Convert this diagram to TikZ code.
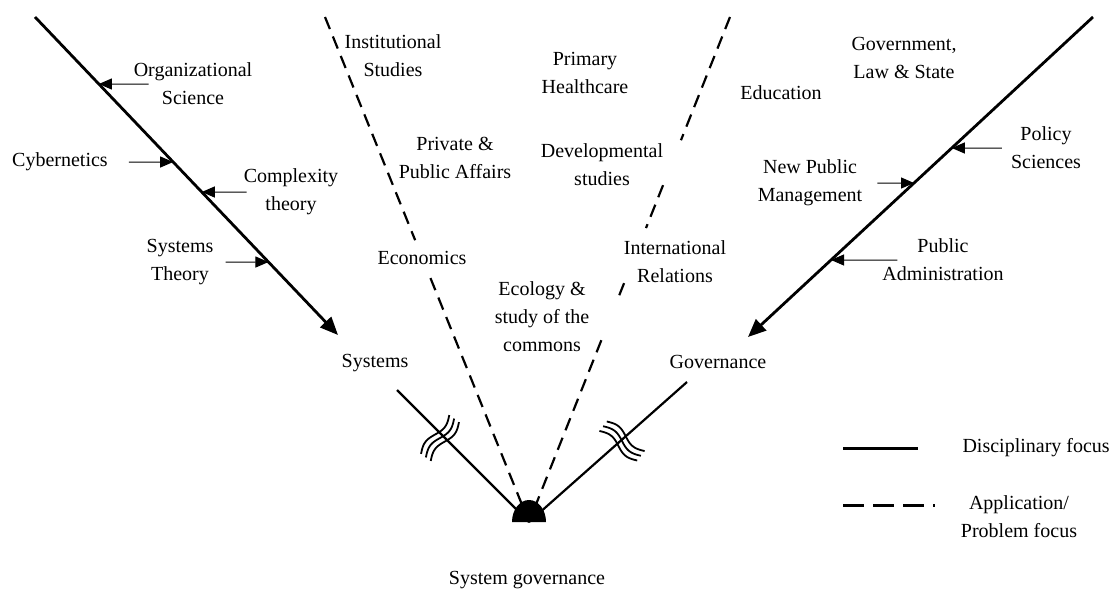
\documentclass[tikz,border=0pt]{standalone}
\usepackage{fontspec}
\setmainfont{Liberation Serif}
\usetikzlibrary{arrows.meta,calc}

\begin{document}
\begin{tikzpicture}[x=1pt, y=-1pt, font=\fontsize{20}{28}\selectfont,
  lbl/.style={align=center, inner sep=2pt},
  disc/.style={line width=2.8pt, -{Triangle[length=18pt,width=15pt]}},
  feed/.style={line width=1pt, -{Triangle[length=13pt,width=11pt]}},
  appl/.style={line width=2.2pt, dash pattern=on 13pt off 8pt},
  brk/.style={line width=1.8pt}]
\useasboundingbox (0,0) rectangle (1110,589);

\coordinate (ltop) at (35,17);
\coordinate (larr) at (338,335);
\coordinate (rtop) at (1093,17);
\coordinate (rarr) at (748,337);
\coordinate (dl) at (325,17);
\coordinate (dr) at (730,17);
\coordinate (sl) at (397,390);
\coordinate (sr) at (687,382);
\coordinate (hub) at (529,522);

\node[lbl] (inst)   at (393,56)  {Institutional\\Studies};
\node[lbl] (prim)   at (585,73)  {Primary\\Healthcare};
\node[lbl] (govt)   at (904,58)  {Government,\\Law \& State};
\node[lbl] (orgsci) at (193,84)  {Organizational\\Science};
\node[lbl] (educ)   at (781,93)  {Education};
\node[lbl] (priv)   at (455,158) {Private \&\\Public Affairs};
\node[lbl] (devel)  at (602,165) {Developmental\\studies};
\node[lbl] (cyber)  at (60,162)  {Cybernetics};
\node[lbl] (cplx)   at (291,192) {Complexity\\theory};
\node[lbl] (policy) at (1046,148) {Policy\\Sciences};
\node[lbl] (npm)    at (810,183) {New Public\\Management};
\node[lbl] (systh)  at (180,262) {Systems\\Theory};
\node[lbl] (econ)   at (422,258) {Economics};
\node[lbl] (intl)   at (675,262) {International\\Relations};
\node[lbl] (pubadm) at (943,260) {Public\\Administration};
\node[lbl] (ecol)   at (542,317) {Ecology \&\\study of the\\commons};
\node[lbl] (sys)    at (375,363) {Systems};
\node[lbl] (gov)    at (718,362) {Governance};
\node[lbl] (sysgov) at (527,580) {System governance};

% disciplinary lines
\draw[disc] (ltop) -- (larr);
\draw[disc] (rtop) -- (rarr);
\draw[line width=2.2pt] (sl) -- (hub);
\draw[line width=2.2pt] (sr) -- (hub);

% feeders
\draw[feed] ([xshift=17pt]orgsci.west) -- (intersection of ltop--larr and orgsci.west--orgsci.east);
\draw[feed] ([xshift=19pt]cyber.east) -- (intersection of ltop--larr and cyber.west--cyber.east);
\draw[feed] ([xshift=5pt]cplx.west) -- (intersection of ltop--larr and cplx.west--cplx.east);
\draw[feed] ([xshift=10pt]systh.east) -- (intersection of ltop--larr and systh.west--systh.east);
\draw[feed] ([xshift=-7pt]policy.west) -- (intersection of rtop--rarr and policy.west--policy.east);
\draw[feed] ([xshift=13pt]npm.east) -- (intersection of rtop--rarr and npm.west--npm.east);
\draw[feed] ([xshift=17pt]pubadm.west) -- (intersection of rtop--rarr and pubadm.west--pubadm.east);

% application lines
\draw[appl] (dl) -- ($(dl)!0.442!(hub)$) ($(dl)!0.517!(hub)$) -- (hub);
\draw[appl] (dr) -- ($(dr)!0.244!(hub)$) ($(dr)!0.333!(hub)$) -- ($(dr)!0.418!(hub)$)
  ($(dr)!0.527!(hub)$) -- ($(dr)!0.560!(hub)$) ($(dr)!0.640!(hub)$) -- (hub);

\fill (hub) ++(-17pt,0) arc[start angle=180, end angle=0, x radius=17pt, y radius=22pt] -- cycle;

% breaks
\foreach \d in {-6,0,6} {
  \draw[brk, shift={(440,438)}, rotate=54, yshift=\d pt] plot[domain=-24:24, samples=40, smooth] (\x,{3.5*sin(\x*360/48)});
  \draw[brk, shift={(622,441)}, rotate=-38, yshift=\d pt] plot[domain=-24:24, samples=40, smooth] (\x,{3.5*sin(\x*360/48)});
}

% legend
\coordinate (lg1) at (843,448);
\coordinate (lg2) at (843,505);
\node[anchor=west] (ldisc) at (959,448) {Disciplinary focus};
\node[lbl] (lappl) at (1019,517) {Application/\\Problem focus};
\draw[line width=3pt] (lg1) -- ++(75,0);
\draw[line width=3pt, dash pattern=on 21pt off 9pt] (lg2) -- ++(92,0);
\end{tikzpicture}
\end{document}
